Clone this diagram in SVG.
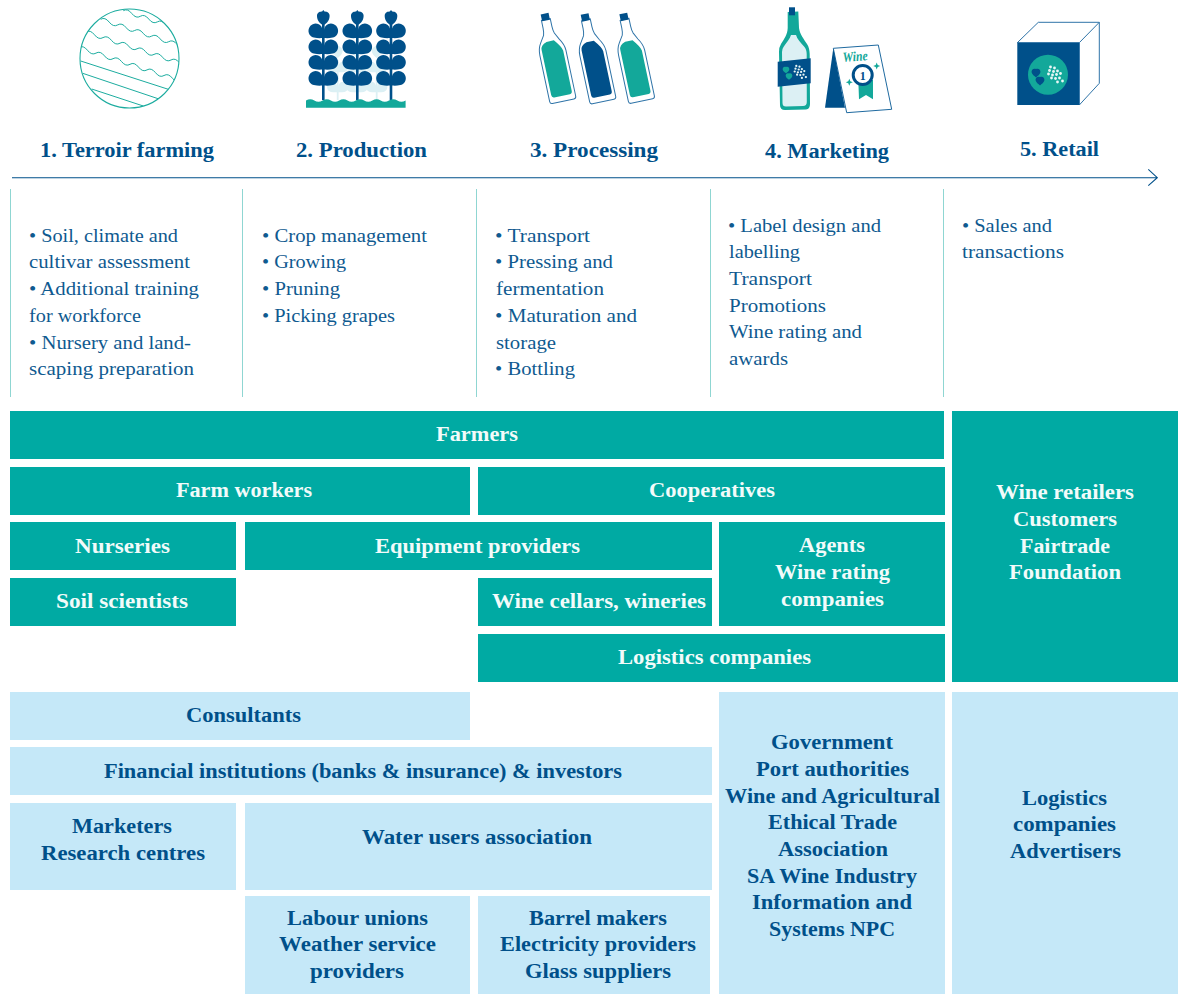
<svg xmlns="http://www.w3.org/2000/svg" xmlns:xlink="http://www.w3.org/1999/xlink" width="1179" height="994" viewBox="0 0 1179 994">
<style>
text{font-family:"Liberation Serif","Times New Roman",serif}
.h{font-size:20px;font-weight:700;fill:#00508a}
.b{font-size:19.5px;fill:#0f5a90}
.t{font-size:20px;font-weight:700;fill:#f2fbfa}
.l{font-size:20px;font-weight:700;fill:#00508a}
.teal{fill:#00aaa3}
.sky{fill:#c5e8f8}
.rule{stroke:#8fd6d2;stroke-width:1;fill:none}
.wave{fill:none;stroke:#1cac9f;stroke-width:1}
.bo{fill:#fff;stroke:#2f74a8;stroke-width:1}
</style>
<defs>
<clipPath id="gc"><circle cx="129.5" cy="58.5" r="49.5"/></clipPath>
<path id="lf" d="M0.8 7.300C-0.5 1 0.500-7 7.500-7.300C12-7.300 14.800-3.500 14.800 0C14.800 3.500 12.500 6 9.500 6.800C6 7.600 3 7.500 0.800 7.300Z"/>
<g id="pair"><use href="#lf"/><use href="#lf" transform="scale(-1 1)"/></g>
<g id="plant">
<rect x="-1.3" y="22" width="2.6" height="78"/>
<path d="M0 25.500C-4 23-6.500 20-6.300 15.500C-6 12-3 11.500-1.200 11.500L0 10L1.200 11.500C3 11.500 6 12 6.300 15.500C6.500 20 4 23 0 25.500Z"/>
<use href="#pair" y="30.7"/><use href="#pair" y="46.7"/><use href="#pair" y="62.3"/><use href="#pair" y="78.3"/>
</g>
<g id="lplant">
<rect x="-.9" y="60" width="1.8" height="40"/>
<path d="M0 58C-3 56-5 53-5 50.500C-5 48-2 47 0 45C2 47 5 48 5 50.500C5 53 3 56 0 58Z"/>
<g transform="translate(0 67) scale(.72)"><use href="#pair"/></g>
<g transform="translate(0 87) scale(.72)"><use href="#pair"/></g>
</g>
<g id="bottle">
<path class="bo" d="M-11-.5L11-.5Q13.300-.5 13.300-3L13.300-50Q13-56 9-62L5.500-69Q4.500-72 4.500-76L4.500-84L-4.500-84L-4.500-76Q-4.500-72-5.500-69L-10-62Q-13.300-57-13.300-50L-13.300-3Q-13.300-.5-11-.5Z"/>
<rect x="-4" y="-90" width="8" height="7" fill="#00508a"/>
</g>
<path id="lab" d="M-8-6L8-6Q10.500-6 10.500-9L10.500-50Q10-54 3.500-62L-4-62Q-10.500-60-10.500-55L-10.500-9Q-10.500-6-8-6Z"/>
<g id="grapes" fill="#e9f7f6">
<circle cx="-4" cy="-7" r="1.4"/><circle cx="0" cy="-6" r="1.4"/><circle cx="-5" cy="-3.500" r="1.4"/><circle cx="-1" cy="-2.500" r="1.4"/><circle cx="3" cy="-3" r="1.4"/><circle cx="-6" cy="0" r="1.4"/><circle cx="-2" cy="1" r="1.4"/><circle cx="2" cy="0.500" r="1.4"/><circle cx="6" cy="-0.500" r="1.4"/><circle cx="-3" cy="4" r="1.4"/><circle cx="1" cy="4.500" r="1.4"/><circle cx="5" cy="4" r="1.4"/><circle cx="8" cy="7" r="1.4"/><circle cx="3" cy="8" r="1.4"/>
</g>
<path id="heart" d="M0-5C-3-6.500-6-4-5.500-1C-5 2-2 3.500 0 5.500C2 3.500 5 2 5.500-1C6-4 3-6.500 0-5Z"/>
<path id="spark" d="M0-3.500L1-1L3.500 0L1 1L0 3.500L-1 1L-3.500 0L-1-1Z" fill="#13a89a"/>
</defs>

<g id="icon-terroir">
<circle cx="129.5" cy="58.5" r="49.500" fill="none" stroke="#1cac9f" stroke-width="1.1"/>
<g clip-path="url(#gc)">
<path class="wave" d="M123.300 10.700q4.250-2.600 8.500 2.800t8.500 2.800t8.500 2.800t8.500 2.800t8.500 2.800t8.500 2.800"/>
<path class="wave" d="M100.700 19.300q4.250-2.600 8.500 2.800t8.500 2.800t8.500 2.800t8.500 2.800t8.500 2.800t8.500 2.800t8.500 2.800t8.500 2.800t8.500 2.800t8.500 2.800"/>
<path class="wave" d="M86 32q4.250-2.600 8.500 2.800t8.500 2.800t8.500 2.800t8.500 2.800t8.500 2.800t8.500 2.800t8.500 2.800t8.500 2.800t8.500 2.800t8.500 2.800t8.500 2.800t8.500 2.800"/>
<path class="wave" d="M79 47.500q4.250-2.600 8.500 2.800t8.500 2.800t8.500 2.800t8.500 2.800t8.500 2.800t8.500 2.800t8.500 2.800t8.500 2.800t8.500 2.800t8.500 2.800t8.500 2.800t8.500 2.800"/>
<path class="wave" d="M80.700 61L168.300 89.300M82.700 73.300L159 99M91.700 89L143.300 106"/>
</g>
</g>

<g id="icon-production">
<g fill="#dcf0f4"><use href="#lplant" x="337.700"/><use href="#lplant" x="357"/><use href="#lplant" x="376.700"/></g>
<g fill="#00508a"><use href="#plant" x="323.300"/><use href="#plant" x="357.300"/><use href="#plant" x="391"/></g>
<path fill="#13a89a" d="M306 107.700V100.500q4.200-2.500 8.300 0t8.300 0t8.300 0t8.300 0t8.300 0t8.300 0t8.300 0t8.300 0t8.300 0t8.300 0t8.300 0t8.300 0V107.700Z"/>
</g>

<g id="icon-processing">
<g transform="translate(563.300 101.700) rotate(-12)"><use href="#bottle"/><use href="#lab" fill="#13a89a"/></g>
<g transform="translate(603.300 102) rotate(-12)"><use href="#bottle"/><use href="#lab" fill="#00508a"/></g>
<g transform="translate(642 101.500) rotate(-12)"><use href="#bottle"/><use href="#lab" fill="#13a89a"/></g>
</g>

<g id="icon-marketing">
<path fill="#13a89a" d="M787.700 12L798.300 11.500L799 28C800 35 804 39 807 44C809 47 809.500 50 809.700 54L810 104Q810 109 806 109.500L785 110Q780 110 780 105L779 52Q779 47 781 44C784 39 787.500 35 787.700 28Z"/>
<path fill="#dcf0f4" d="M791 35L796 35C797 39 801 43 804.500 47C806 49 806.700 51 806.700 54L806.800 102Q806.800 106 803 106L786 106.500Q782.500 106.500 782.500 103L782 52Q782 49 783.500 47C786 43 790 39 791 35Z"/>
<rect x="789" y="7.300" width="6" height="8" fill="#00508a"/>
<path fill="#00508a" d="M777.700 61.700L810.700 58.300L810.700 83.300L777.700 86.700Z"/>
<use href="#grapes" transform="translate(799.500 71.500) scale(.8)"/>
<g fill="#13a89a"><use href="#heart" transform="translate(786 70) scale(.6)"/><use href="#heart" transform="translate(789 76.500) scale(.6)"/></g>
<path fill="#fff" stroke="#1f6aa0" stroke-width="1" d="M833.300 48.300L878.300 45L891.700 109.300L846.700 112.700Z"/>
<path fill="#00508a" d="M833.300 48.300L825 107.700L845 107.700Z"/>
<text x="843" y="62" font-size="14" font-weight="700" font-style="italic" fill="#13a89a" textLength="25" lengthAdjust="spacingAndGlyphs" transform="rotate(-4 843 62)">Wine</text>
<path fill="#13a89a" d="M858.300 80L873 80L873 99.300L866 95L859 99.300Z"/>
<circle cx="862.700" cy="75" r="9.500" fill="#fff" stroke="#00508a" stroke-width="3"/>
<text x="862.700" y="79.500" font-size="12" font-weight="700" fill="#00508a" text-anchor="middle">1</text>
<use href="#spark" x="876.700" y="66"/><use href="#spark" x="849.300" y="82.300"/>
</g>

<g id="icon-retail">
<path fill="#fff" stroke="#2f74a8" stroke-width="1" d="M1017.300 42.700L1038.300 22.300L1099.300 22.300L1099.300 83.300L1079.300 105L1079.300 42.700ZM1079.300 42.700L1099.300 22.300"/>
<rect x="1017.300" y="42.700" width="62" height="62.300" fill="#00508a"/>
<circle cx="1048" cy="74.700" r="20" fill="#13a89a"/>
<use href="#grapes" transform="translate(1054.500 74)"/>
<g fill="#00508a"><use href="#heart" transform="translate(1036 73) scale(.8)"/><use href="#heart" transform="translate(1040 81) scale(.8)"/></g>
</g>

<g id="connectors">
<path class="rule" d="M10.500 189V397M242.500 189V397M476.500 189V397M710.500 189V397M943.500 189V397"/>
<path d="M12 177.700H1157M1148.300 169.300L1157.300 177.700L1148.300 185.700" fill="none" stroke="#00508a" stroke-width="1.100"/>
</g>

<g id="heads">
<text class="h" x="40" y="157" textLength="174" lengthAdjust="spacingAndGlyphs">1. Terroir farming</text>
<text class="h" x="296" y="157" textLength="131" lengthAdjust="spacingAndGlyphs">2. Production</text>
<text class="h" x="530" y="157" textLength="128" lengthAdjust="spacingAndGlyphs">3. Processing</text>
<text class="h" x="765" y="158" textLength="124" lengthAdjust="spacingAndGlyphs">4. Marketing</text>
<text class="h" x="1020" y="156" textLength="79" lengthAdjust="spacingAndGlyphs">5. Retail</text>
</g>

<g id="list-1">
<text class="b" x="29" y="242" textLength="149" lengthAdjust="spacingAndGlyphs">• Soil, climate and</text>
<text class="b" x="29" y="268" textLength="161" lengthAdjust="spacingAndGlyphs">cultivar assessment</text>
<text class="b" x="29" y="295" textLength="170" lengthAdjust="spacingAndGlyphs">• Additional training</text>
<text class="b" x="29" y="322" textLength="112" lengthAdjust="spacingAndGlyphs">for workforce</text>
<text class="b" x="29" y="349" textLength="162" lengthAdjust="spacingAndGlyphs">• Nursery and land-</text>
<text class="b" x="29" y="375" textLength="165" lengthAdjust="spacingAndGlyphs">scaping preparation</text>
</g>
<g id="list-2">
<text class="b" x="262" y="242" textLength="165" lengthAdjust="spacingAndGlyphs">• Crop management</text>
<text class="b" x="262" y="268" textLength="84" lengthAdjust="spacingAndGlyphs">• Growing</text>
<text class="b" x="262" y="295" textLength="78" lengthAdjust="spacingAndGlyphs">• Pruning</text>
<text class="b" x="262" y="322" textLength="133" lengthAdjust="spacingAndGlyphs">• Picking grapes</text>
</g>
<g id="list-3">
<text class="b" x="495" y="242" textLength="95" lengthAdjust="spacingAndGlyphs">• Transport</text>
<text class="b" x="495" y="268" textLength="118" lengthAdjust="spacingAndGlyphs">• Pressing and</text>
<text class="b" x="496" y="295" textLength="108" lengthAdjust="spacingAndGlyphs">fermentation</text>
<text class="b" x="495" y="322" textLength="142" lengthAdjust="spacingAndGlyphs">• Maturation and</text>
<text class="b" x="496" y="349" textLength="60" lengthAdjust="spacingAndGlyphs">storage</text>
<text class="b" x="495" y="375" textLength="80" lengthAdjust="spacingAndGlyphs">• Bottling</text>
</g>
<g id="list-4">
<text class="b" x="728" y="232" textLength="153" lengthAdjust="spacingAndGlyphs">• Label design and</text>
<text class="b" x="729" y="258" textLength="71" lengthAdjust="spacingAndGlyphs">labelling</text>
<text class="b" x="729" y="285" textLength="83" lengthAdjust="spacingAndGlyphs">Transport</text>
<text class="b" x="729" y="312" textLength="97" lengthAdjust="spacingAndGlyphs">Promotions</text>
<text class="b" x="729" y="338" textLength="133" lengthAdjust="spacingAndGlyphs">Wine rating and</text>
<text class="b" x="729" y="365" textLength="59" lengthAdjust="spacingAndGlyphs">awards</text>
</g>
<g id="list-5">
<text class="b" x="962" y="232" textLength="90" lengthAdjust="spacingAndGlyphs">• Sales and</text>
<text class="b" x="962" y="258" textLength="102" lengthAdjust="spacingAndGlyphs">transactions</text>
</g>

<g id="farmers"><rect class="teal" x="10" y="411" width="934" height="48"/><text class="t" x="436" y="441" textLength="82" lengthAdjust="spacingAndGlyphs">Farmers</text></g>
<g id="farm-workers"><rect class="teal" x="10" y="467" width="460" height="48"/><text class="t" x="176" y="497" textLength="136" lengthAdjust="spacingAndGlyphs">Farm workers</text></g>
<g id="cooperatives"><rect class="teal" x="478" y="467" width="467" height="48"/><text class="t" x="649" y="497" textLength="126" lengthAdjust="spacingAndGlyphs">Cooperatives</text></g>
<g id="nurseries"><rect class="teal" x="10" y="522" width="226" height="48"/><text class="t" x="75" y="553" textLength="95" lengthAdjust="spacingAndGlyphs">Nurseries</text></g>
<g id="equipment"><rect class="teal" x="245" y="522" width="467" height="48"/><text class="t" x="375" y="553" textLength="205" lengthAdjust="spacingAndGlyphs">Equipment providers</text></g>
<g id="soil"><rect class="teal" x="10" y="578" width="226" height="48"/><text class="t" x="56" y="608" textLength="132" lengthAdjust="spacingAndGlyphs">Soil scientists</text></g>
<g id="cellars"><rect class="teal" x="478" y="578" width="234" height="48"/><text class="t" x="492" y="608" textLength="214" lengthAdjust="spacingAndGlyphs">Wine cellars, wineries</text></g>
<g id="agents"><rect class="teal" x="719" y="522" width="226" height="104"/>
<text class="t" x="799" y="552" textLength="66" lengthAdjust="spacingAndGlyphs">Agents</text>
<text class="t" x="775" y="579" textLength="115" lengthAdjust="spacingAndGlyphs">Wine rating</text>
<text class="t" x="781" y="606" textLength="103" lengthAdjust="spacingAndGlyphs">companies</text></g>
<g id="logistics"><rect class="teal" x="478" y="634" width="467" height="48"/><text class="t" x="618" y="664" textLength="193" lengthAdjust="spacingAndGlyphs">Logistics companies</text></g>
<g id="retailers"><rect class="teal" x="952" y="411" width="226" height="271"/>
<text class="t" x="996" y="499" textLength="138" lengthAdjust="spacingAndGlyphs">Wine retailers</text>
<text class="t" x="1013" y="526" textLength="104" lengthAdjust="spacingAndGlyphs">Customers</text>
<text class="t" x="1020" y="553" textLength="90" lengthAdjust="spacingAndGlyphs">Fairtrade</text>
<text class="t" x="1009" y="579" textLength="112" lengthAdjust="spacingAndGlyphs">Foundation</text></g>

<g id="consultants"><rect class="sky" x="10" y="692" width="460" height="48"/><text class="l" x="186" y="722" textLength="115" lengthAdjust="spacingAndGlyphs">Consultants</text></g>
<g id="financial"><rect class="sky" x="10" y="747" width="702" height="48"/><text class="l" x="104" y="778" textLength="518" lengthAdjust="spacingAndGlyphs">Financial institutions (banks &amp; insurance) &amp; investors</text></g>
<g id="marketers"><rect class="sky" x="10" y="803" width="226" height="87"/>
<text class="l" x="72" y="833" textLength="100" lengthAdjust="spacingAndGlyphs">Marketers</text>
<text class="l" x="41" y="860" textLength="164" lengthAdjust="spacingAndGlyphs">Research centres</text></g>
<g id="water"><rect class="sky" x="245" y="803" width="467" height="87"/><text class="l" x="362" y="844" textLength="230" lengthAdjust="spacingAndGlyphs">Water users association</text></g>
<g id="labour"><rect class="sky" x="245" y="896" width="225" height="98"/>
<text class="l" x="287" y="925" textLength="141" lengthAdjust="spacingAndGlyphs">Labour unions</text>
<text class="l" x="279" y="951" textLength="157" lengthAdjust="spacingAndGlyphs">Weather service</text>
<text class="l" x="310" y="978" textLength="94" lengthAdjust="spacingAndGlyphs">providers</text></g>
<g id="barrel"><rect class="sky" x="478" y="896" width="232" height="98"/>
<text class="l" x="529" y="925" textLength="138" lengthAdjust="spacingAndGlyphs">Barrel makers</text>
<text class="l" x="500" y="951" textLength="196" lengthAdjust="spacingAndGlyphs">Electricity providers</text>
<text class="l" x="525" y="978" textLength="146" lengthAdjust="spacingAndGlyphs">Glass suppliers</text></g>
<g id="government"><rect class="sky" x="719" y="692" width="226" height="302"/>
<text class="l" x="771" y="749" textLength="122" lengthAdjust="spacingAndGlyphs">Government</text>
<text class="l" x="756" y="776" textLength="153" lengthAdjust="spacingAndGlyphs">Port authorities</text>
<text class="l" x="725" y="803" textLength="215" lengthAdjust="spacingAndGlyphs">Wine and Agricultural</text>
<text class="l" x="768" y="829" textLength="129" lengthAdjust="spacingAndGlyphs">Ethical Trade</text>
<text class="l" x="778" y="856" textLength="110" lengthAdjust="spacingAndGlyphs">Association</text>
<text class="l" x="747" y="883" textLength="170" lengthAdjust="spacingAndGlyphs">SA Wine Industry</text>
<text class="l" x="752" y="909" textLength="160" lengthAdjust="spacingAndGlyphs">Information and</text>
<text class="l" x="769" y="936" textLength="126" lengthAdjust="spacingAndGlyphs">Systems NPC</text></g>
<g id="advertisers"><rect class="sky" x="952" y="692" width="226" height="302"/>
<text class="l" x="1022" y="805" textLength="85" lengthAdjust="spacingAndGlyphs">Logistics</text>
<text class="l" x="1013" y="831" textLength="103" lengthAdjust="spacingAndGlyphs">companies</text>
<text class="l" x="1010" y="858" textLength="111" lengthAdjust="spacingAndGlyphs">Advertisers</text></g>
</svg>
